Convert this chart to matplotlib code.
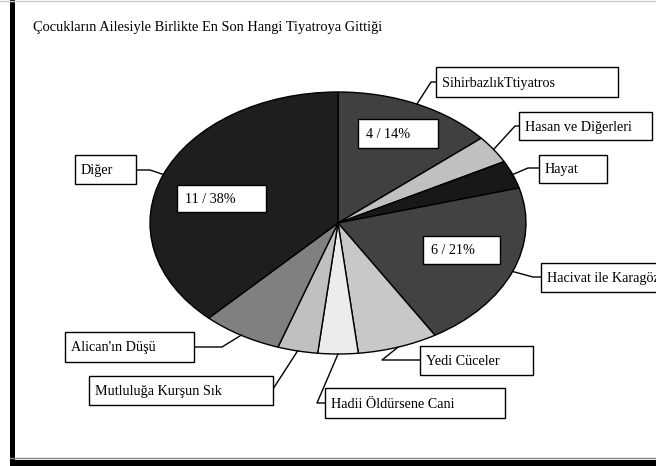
import numpy as np
import matplotlib.pyplot as plt
from matplotlib.patches import Rectangle

plt.rcParams['font.family'] = ['Liberation Serif', 'DejaVu Serif']

# ── data ────────────────────────────────────────────────
title = "Çocukların Ailesiyle Birlikte En Son Hangi Tiyatroya Gittiği"
plays = ["SihirbazlıkTtiyatros", "Hasan ve Diğerleri", "Hayat",
         "Hacivat ile Karagöz", "Yedi Cüceler", "Hadii Öldürsene Cani",
         "Mutluluğa Kurşun Sık", "Alican'ın Düşü", "Diğer"]
counts = [4, 1, 1, 6, 2, 1, 1, 2, 11]
greys = ["#404040", "#c0c0c0", "#181818", "#424242", "#c8c8c8",
         "#ececec", "#c0c0c0", "#808080", "#1e1e1e"]
# which slices get a "n / p%" label
value_labels = {0, 3, 8}

W, H = 656, 466
CX, CY = 338, 223          # pie centre, px from top-left
RX, RY = 188, 131          # ellipse radii, px

fig = plt.figure(figsize=(W / 100, H / 100), dpi=100)

# pie in its own axes, stretched to an ellipse
pax = fig.add_axes([(CX - RX) / W, (H - CY - RY) / H, 2 * RX / W, 2 * RY / H])
wedges, _ = pax.pie(counts, colors=greys, startangle=90, counterclock=False,
                    wedgeprops=dict(edgecolor="black", linewidth=1.0))
pax.set_aspect("auto")
pax.set_xlim(-1, 1)
pax.set_ylim(-1, 1)
pax.axis("off")

# overlay in pixel coordinates
ax = fig.add_axes([0, 0, 1, 1], facecolor="none")
ax.set_xlim(0, W)
ax.set_ylim(H, 0)
ax.axis("off")

# chart frame: heavy left and bottom edges, thin top line
ax.add_patch(Rectangle((10, 0), 4.5, 460, color="black", lw=0))
ax.add_patch(Rectangle((10, 459.5), W, 7, color="black", lw=0))
ax.plot([10, W], [458, 458], color="#888888", lw=1)
ax.plot([0, W], [0.5, 0.5], color="#cccccc", lw=1)

ax.text(33, 28, title, fontsize=10.4, va="center", ha="left")


def edge_point(i):
    w = wedges[i]
    th = np.deg2rad((w.theta1 + w.theta2) / 2)
    return CX + RX * np.cos(th), CY - RY * np.sin(th)


def box(x0, y0, x1, y1, s, tx=None):
    ax.add_patch(Rectangle((x0, y0), x1 - x0, y1 - y0, facecolor="white",
                           edgecolor="black", lw=1, zorder=5))
    ax.text(x0 + (tx if tx is not None else 6), (y0 + y1) / 2 + 1, s,
            fontsize=10.2, va="center", ha="left", zorder=6)


# name-label boxes: (x0, y0, x1, y1) and elbow of the leader line
name_boxes = [
    ((436, 67, 618, 97), (431, 82), (436, 82)),
    ((519, 112, 652, 140), (515, 126), (519, 126)),
    ((539, 155, 607, 183), (528, 168), (539, 168)),
    ((541, 263, 670, 292), (533, 277), (541, 277)),
    ((420, 346, 533, 375), (382, 360), (420, 360)),
    ((325, 388, 505, 418), (317, 403), (325, 403)),
    ((89, 376, 273, 405), (273, 389), (273, 389)),
    ((65, 332, 194, 362), (222, 347), (194, 347)),
    ((75, 155, 136, 184), (150, 170), (136, 170)),
]
for i, ((x0, y0, x1, y1), elbow, end) in enumerate(name_boxes):
    ex, ey = edge_point(i)
    ax.plot([ex, elbow[0], end[0]], [ey, elbow[1], end[1]],
            color="black", lw=1, zorder=4)
    box(x0, y0, x1, y1, plays[i])

# value-label boxes inside the big slices
total = sum(counts)
value_boxes = {0: (358, 119, 438, 148), 3: (423, 236, 500, 264),
               8: (177, 185, 266, 212)}
for i in value_labels:
    x0, y0, x1, y1 = value_boxes[i]
    box(x0, y0, x1, y1, f"{counts[i]} / {counts[i] / total:.0%}", tx=8)

fig.savefig("out.png", dpi=100)
